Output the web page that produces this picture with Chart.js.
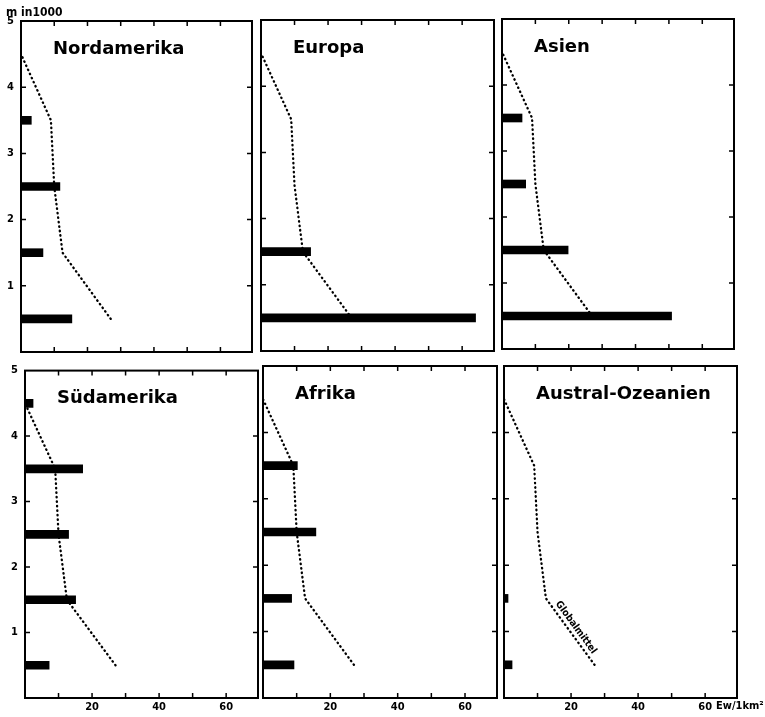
<!DOCTYPE html>
<html>
<head>
<meta charset="utf-8">
<script src="https://cdn.jsdelivr.net/npm/chart.js@4.4.0/dist/chart.umd.min.js"></script>
<style>
  body { margin: 0; background: #fff; width: 765px; height: 717px; position: relative; overflow: hidden; }
  canvas { position: absolute; }
</style>
</head>
<body>
<script>
// height classes (m in 1000), bar centres
var heights = [0.5, 1.5, 2.5, 3.5, 4.5];

// population density per height class (Ew/1km2)
var nordamerika     = [15.3, 6.6, 11.7, 3.1, 0];
var europa          = [64, 14.8, 0, 0, 0];
var asien           = [50.8, 19.8, 7.1, 6.0, 0];
var suedamerika     = [7.2, 15.1, 13.0, 17.2, 2.4];
var afrika          = [9.2, 8.5, 15.7, 10.2, 0];
var australOzeanien = [2.4, 1.2, 0, 0, 0];

// global mean curve (dotted)
var globalX = [27, 12.5, 10, 9, 0];
var globalY = [0.5, 1.5, 2.5, 3.5, 4.5];

var xTickLabels = ['20', '40', '60'];
var yTickLabels = ['1', '2', '3', '4', '5'];

var tickFont = { family: "'DejaVu Sans Condensed', 'DejaVu Sans'", weight: 'bold', size: 11 };

var panels = [
  { title: 'Nordamerika',       values: nordamerika,     x: 21,  y: 21,  w: 231, h: 331, col: 0, row: 0 },
  { title: 'Europa',            values: europa,          x: 261, y: 20,  w: 233, h: 331, col: 1, row: 0 },
  { title: 'Asien',             values: asien,           x: 502, y: 19,  w: 232, h: 330, col: 2, row: 0 },
  { title: 'Südamerika',        values: suedamerika,     x: 25,  y: 367, w: 233, h: 331, col: 0, row: 1 },
  { title: 'Afrika',            values: afrika,          x: 263, y: 366, w: 234, h: 332, col: 1, row: 1 },
  { title: 'Austral-Ozeanien',  values: australOzeanien, x: 504, y: 366, w: 233, h: 332, col: 2, row: 1 }
];

var framePlugin = {
  id: 'frame',
  afterDatasetsDraw: function(chart, args, opts) {
    var a = chart.chartArea, ctx = chart.ctx;
    var xs = chart.scales.x, ys = chart.scales.y;
    ctx.save();
    ctx.strokeStyle = '#000';
    ctx.fillStyle = '#000';
    ctx.lineWidth = 2;
    ctx.strokeRect(a.left, a.top, a.right - a.left, a.bottom - a.top);

    // inward tick marks on all four sides
    ctx.lineWidth = 1.5;
    ctx.beginPath();
    xs.ticks.forEach(function(t) {
      if (t.value <= 0 || t.value >= xs.max) return;
      var px = xs.getPixelForValue(t.value);
      ctx.moveTo(px, a.top); ctx.lineTo(px, a.top + 5);
      ctx.moveTo(px, a.bottom); ctx.lineTo(px, a.bottom - 5);
    });
    ys.ticks.forEach(function(t) {
      if (t.value <= 0 || t.value >= ys.max) return;
      var py = ys.getPixelForValue(t.value);
      ctx.moveTo(a.left, py); ctx.lineTo(a.left + 5, py);
      ctx.moveTo(a.right, py); ctx.lineTo(a.right - 5, py);
    });
    ctx.stroke();

    // panel title
    ctx.font = 'bold 18px "DejaVu Sans"';
    ctx.textBaseline = 'middle';
    ctx.textAlign = 'left';
    ctx.fillText(opts.title, a.left + 32, a.top + 28);

    if (opts.yTitle) {
      ctx.font = 'bold 12px "DejaVu Sans Condensed", "DejaVu Sans"';
      ctx.textBaseline = 'alphabetic';
      ctx.fillText('m in1000', a.left - 15, a.top - 5);
    }

    if (opts.globalLabel) {
      var x1 = xs.getPixelForValue(globalX[1]), y1 = ys.getPixelForValue(globalY[1]);
      var x2 = xs.getPixelForValue(globalX[0]), y2 = ys.getPixelForValue(globalY[0]);
      var ang = Math.atan2(y2 - y1, x2 - x1);
      ctx.translate((x1 + x2) / 2, (y1 + y2) / 2);
      ctx.rotate(ang);
      ctx.font = 'bold 10px "DejaVu Sans Condensed", "DejaVu Sans"';
      ctx.textAlign = 'center';
      ctx.textBaseline = 'middle';
      ctx.fillText('Globalmittel', 0, -7);
      ctx.setTransform(1, 0, 0, 1, 0, 0);
    }

    if (opts.unit) {
      ctx.font = 'bold 11px "DejaVu Sans Condensed", "DejaVu Sans"';
      ctx.textAlign = 'left';
      ctx.textBaseline = 'top';
      var px60 = xs.getPixelForValue(60);
      ctx.fillText('Ew/1km²', px60 + ctx.measureText('60').width / 2 + 4, xs.top + 3);
    }
    ctx.restore();
  }
};

panels.forEach(function(p) {
  var padL = 22, padB = 22;
  var padT = p.row === 0 && p.col === 0 ? 21 : 10;
  var padR = p.col === 2 && p.row === 1 ? 28 : 8;
  var cv = document.createElement('canvas');
  var cw = p.w + padL + padR, ch = p.h + padT + padB;
  cv.width = cw; cv.height = ch;
  cv.style.width = cw + 'px'; cv.style.height = ch + 'px';
  cv.style.left = (p.x - padL) + 'px';
  cv.style.top = (p.y - padT) + 'px';
  document.body.appendChild(cv);

  // empty height classes get no bar at all
  var barData = [];
  heights.forEach(function(h, i) { if (p.values[i] > 0) barData.push({ x: p.values[i], y: h }); });
  var lineData = globalY.map(function(h, i) { return { x: globalX[i], y: h }; });

  new Chart(cv.getContext('2d'), {
    type: 'bar',
    data: {
      datasets: [{
        type: 'bar',
        indexAxis: 'y',
        data: barData,
        backgroundColor: '#000',
        borderWidth: 0,
        barThickness: 8
      }, {
        type: 'line',
        data: lineData,
        borderColor: '#000',
        borderWidth: 2.3,
        borderDash: [0.5, 4],
        borderCapStyle: 'round',
        pointRadius: 0,
        fill: false,
        tension: 0
      }]
    },
    options: {
      responsive: false,
      animation: false,
      devicePixelRatio: 1,
      layout: { padding: { left: 0, top: padT, right: padR, bottom: 0 } },
      plugins: {
        legend: { display: false },
        tooltip: { enabled: false },
        frame: { title: p.title, yTitle: p.row === 0 && p.col === 0, globalLabel: p.col === 2 && p.row === 1, unit: p.col === 2 && p.row === 1 }
      },
      scales: {
        x: {
          type: 'linear',
          position: 'bottom',
          offset: false,
          min: 0,
          max: 69.5,
          grid: { display: false, drawTicks: false, offset: false },
          border: { display: false },
          afterFit: function(s) { s.height = padB; },
          ticks: {
            display: p.row === 1,
            stepSize: 10,
            includeBounds: false,
            maxRotation: 0,
            autoSkip: false,
            padding: 3,
            color: '#000',
            font: tickFont,
            callback: function(v) { return xTickLabels.indexOf(String(v)) >= 0 ? String(v) : ''; }
          }
        },
        y: {
          type: 'linear',
          offset: false,
          min: 0,
          max: 5,
          grid: { display: false, drawTicks: false, offset: false },
          border: { display: false },
          afterFit: function(s) { s.width = padL; },
          ticks: {
            display: p.col === 0,
            stepSize: 1,
            padding: 7,
            color: '#000',
            font: tickFont,
            callback: function(v) { return yTickLabels.indexOf(String(v)) >= 0 ? String(v) : ''; }
          }
        }
      }
    },
    plugins: [framePlugin]
  });
});
</script>
</body>
</html>
